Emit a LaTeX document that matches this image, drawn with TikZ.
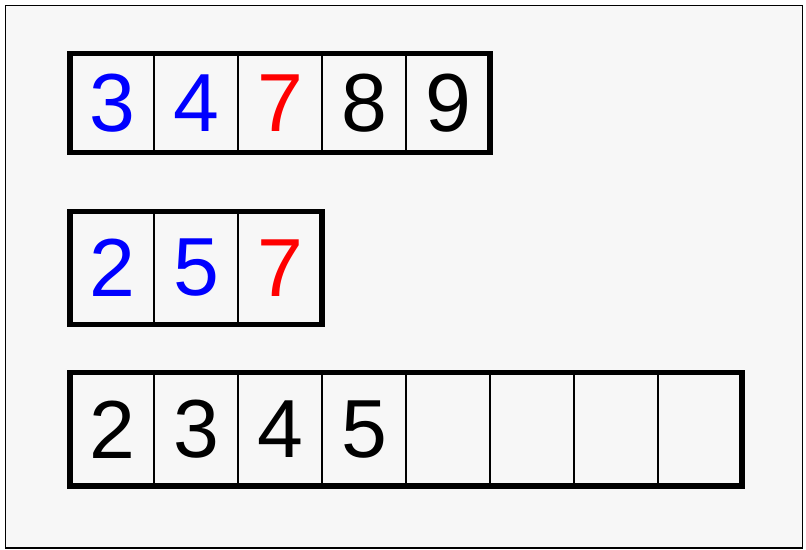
\documentclass[tikz,border=0pt]{standalone}
\usepackage{fontspec}
\setmainfont{Liberation Sans}
\definecolor{panel}{HTML}{F7F7F7}
\begin{document}
\begin{tikzpicture}[
    x=0.025cm, y=-0.025cm,
    cell/.style={draw, line width=1.4pt, minimum width=2.1cm, inner sep=0pt, outer sep=0pt, font=\fontsize{58.6}{60}\selectfont},
    frame/.style={line width=3.9pt}
]
    \useasboundingbox (0,0) rectangle (806,550);
    \draw[fill=panel, line width=1pt] (5.5,5.5) rectangle (802.5,548);

    % first array
    \foreach \d/\c [count=\i] in {3/blue,4/blue,7/red,8/black,9/black}
        \node[cell, minimum height=2.4625cm, text=\c] (a\i) at (28+84*\i, 103) {\d};
    \draw[frame] (a1.north west) rectangle (a5.south east);

    % second array
    \foreach \d/\c [count=\i] in {2/blue,5/blue,7/red}
        \node[cell, minimum height=2.825cm, text=\c] (b\i) at (28+84*\i, 268) {\d};
    \draw[frame] (b1.north west) rectangle (b3.south east);

    % merged array
    \foreach \d [count=\i] in {2,3,4,5,{},{},{},{}}
        \node[cell, minimum height=2.825cm] (c\i) at (28+84*\i, 429.25) {\d};
    \draw[frame] (c1.north west) rectangle (c8.south east);
\end{tikzpicture}
\end{document}
